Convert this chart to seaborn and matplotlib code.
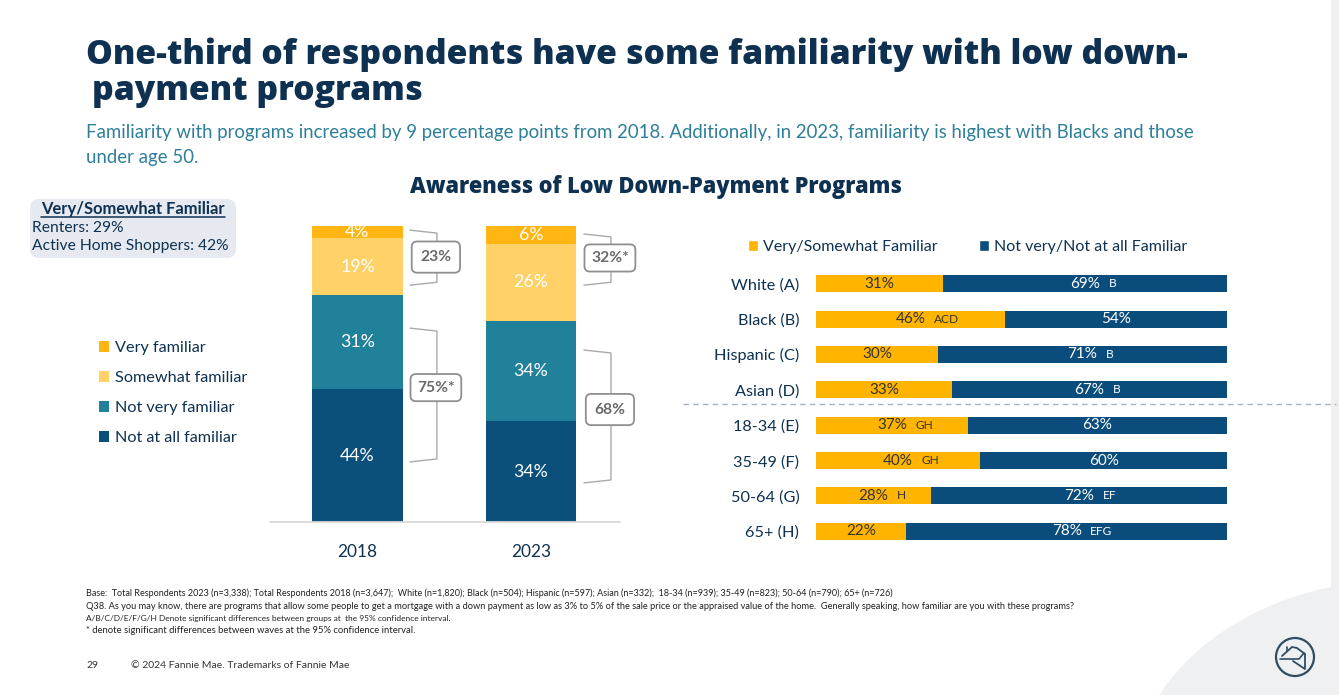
import numpy as np
import matplotlib
matplotlib.use("Agg")
import matplotlib.pyplot as plt
import seaborn as sns
from matplotlib.patches import Patch, FancyBboxPatch, Ellipse, Circle, Rectangle
from matplotlib.lines import Line2D

# ---------------- data ----------------
years = ["2018", "2023"]
very_familiar = [4, 6]
somewhat_familiar = [19, 26]
not_very_familiar = [31, 34]
not_at_all_familiar = [44, 34]
segment_names = ["Very familiar", "Somewhat familiar", "Not very familiar", "Not at all familiar"]
top2_net = ["23%", "32%*"]
bottom2_net = ["75%*", "68%"]

groups = ["White (A)", "Black (B)", "Hispanic (C)", "Asian (D)",
          "18-34 (E)", "35-49 (F)", "50-64 (G)", "65+ (H)"]
familiar = [31, 46, 30, 33, 37, 40, 28, 22]
not_familiar = [69, 54, 71, 67, 63, 60, 72, 78]
familiar_sig = ["", "ACD", "", "", "GH", "GH", "H", ""]
not_familiar_sig = ["B", "", "B", "B", "", "", "EF", "EFG"]
right_legend = ["Very/Somewhat Familiar", "Not very/Not at all Familiar"]

title_lines = ["One-third of respondents have some familiarity with low down-",
               "payment programs"]
subtitle_lines = ["Familiarity with programs increased by 9 percentage points from 2018. "
                  "Additionally, in 2023, familiarity is highest with Blacks and those",
                  "under age 50."]
chart_title = "Awareness of Low Down-Payment Programs"
info_header = "Very/Somewhat Familiar"
info_lines = ["Renters: 29%", "Active Home Shoppers: 42%"]
footer_lines = [
    "Base:  Total Respondents 2023 (n=3,338); Total Respondents 2018 (n=3,647);  White (n=1,820); Black (n=504); "
    "Hispanic (n=597); Asian (n=332);  18-34 (n=939); 35-49 (n=823); 50-64 (n=790); 65+ (n=726)",
    "Q38. As you may know, there are programs that allow some people to get a mortgage with a down payment as low as "
    "3% to 5% of the sale price or the appraised value of the home.  Generally speaking, how familiar are you with these programs?",
    "A/B/C/D/E/F/G/H Denote significant differences between groups at  the 95% confidence interval.",
    "* denote significant differences between waves at the 95% confidence interval.",
]
page_number = "29"
copyright_text = "\u00a9 2024 Fannie Mae. Trademarks of Fannie Mae"

# ---------------- style ----------------
C_VERY = "#FFB612"
C_SOME = "#FFD166"
C_NOTVERY = "#22819A"
C_NOTALL = "#0B4F7B"
C_ORANGE = "#FFB400"
C_BLUE = "#0A4D7C"
NAVY = "#0E3152"
TEAL = "#2E7F9A"
GRAY_TXT = "#6A6A6A"

sns.set_theme(style="white")
plt.rcParams["font.family"] = ["Lato", "DejaVu Sans"]

W, H = 1339, 695
fig = plt.figure(figsize=(W / 100, H / 100), dpi=100)
fig.patch.set_facecolor("white")
renderer = fig.canvas.get_renderer()


def fx(x):
    return x / W


def fy(y):
    return 1 - y / H


def size_for(s, target, **kw):
    t = fig.text(0, 0, s, fontsize=10, **kw)
    w = t.get_window_extent(renderer).width
    t.remove()
    return 10 * target / w


# background helper axes in pixel coordinates
bg = fig.add_axes([0, 0, 1, 1], zorder=-10)
bg.set_xlim(0, W)
bg.set_ylim(H, 0)
bg.axis("off")
bg.add_patch(Ellipse((1400, 790), 540, 420, fc="#eef0f2", ec="none"))
bg.add_patch(Rectangle((1331, 0), 8, H, fc="#eef0f2", ec="none"))

# ---------------- titles ----------------
TFONT = ["Open Sans", "DejaVu Sans"]
TW = "heavy"
ts = size_for(title_lines[0], 1102, fontweight=TW, family=TFONT)
fig.text(fx(86), fy(64), title_lines[0], fontsize=ts, fontweight=TW, family=TFONT,
         color=NAVY, va="baseline", ha="left")
fig.text(fx(92), fy(100), title_lines[1], fontsize=ts, fontweight=TW, family=TFONT,
         color=NAVY, va="baseline", ha="left")

ss = size_for(subtitle_lines[0], 1107)
fig.text(fx(86), fy(138), subtitle_lines[0], fontsize=ss, color=TEAL, va="baseline")
fig.text(fx(86), fy(163), subtitle_lines[1], fontsize=ss, color=TEAL, va="baseline")

cs = size_for(chart_title, 493, fontweight=TW, family=TFONT)
fig.text(fx(410), fy(193), chart_title, fontsize=cs, fontweight=TW, family=TFONT,
         color=NAVY, va="baseline")

# ---------------- info box ----------------
bg.add_patch(FancyBboxPatch((30, 199), 206, 59, boxstyle="round,pad=0,rounding_size=9",
                            fc="#e6eaf0", ec="none"))
hs = size_for(info_header, 184, fontweight="bold")
ht = fig.text(fx(133), fy(214), info_header, fontsize=hs, fontweight="bold", color=NAVY,
              ha="center", va="baseline")
bb = ht.get_window_extent(renderer)
bg.plot([bb.x0, bb.x1], [217, 217], color=NAVY, lw=1.1)
isz = size_for(info_lines[1], 197)
fig.text(fx(32), fy(232), info_lines[0], fontsize=isz, color=NAVY, va="baseline")
fig.text(fx(32), fy(250), info_lines[1], fontsize=isz, color=NAVY, va="baseline")

# ---------------- left stacked bars ----------------
ax1 = fig.add_axes([fx(270), fy(522), 350 / W, 296 / H])
stack = np.array([not_at_all_familiar, not_very_familiar, somewhat_familiar, very_familiar], float)
norm = stack / stack.sum(axis=0) * 100
cum = norm.cumsum(axis=0)
seg_colors = [C_NOTALL, C_NOTVERY, C_SOME, C_VERY]
for i in range(3, -1, -1):
    sns.barplot(x=years, y=cum[i], color=seg_colors[i], width=0.52, saturation=1,
                linewidth=0, ax=ax1)
ax1.set_xlim(-0.504, 1.513)
ax1.set_ylim(0, 100)
lab_size = size_for("44%", 35)
for i in range(4):
    for j in range(2):
        ax1.text(j, cum[i, j] - norm[i, j] / 2, f"{int(stack[i, j])}%", ha="center", va="center",
                 color="white", fontsize=lab_size)
for s in ax1.spines.values():
    s.set_visible(False)
ax1.axhline(0, color="#d9d9d9", lw=1.3, clip_on=False)
ax1.set_yticks([])
ax1.set_xticks([0, 1])
ax1.set_xticklabels(years, fontsize=size_for("2018", 40), color=NAVY)
ax1.tick_params(axis="x", length=0, pad=15.5)
ax1.set_xlabel("")
ax1.set_ylabel("")
ax1.set_facecolor("none")

# brackets + net boxes
bracket_layout = [  # (x_left, x_right, y_top, y_bottom, box_y) for each year: top2 then bottom2
    [(0.303, 0.458, 98.6, 80.0, 89.5), (0.303, 0.458, 65.5, 20.3, 45.4)],
    [(1.305, 1.461, 97.3, 80.0, 89.2), (1.305, 1.461, 58.1, 13.2, 38.0)],
]
box_size = size_for("23%", 31, fontweight="bold")
for j in range(2):
    for k, lbl in enumerate([top2_net[j], bottom2_net[j]]):
        x0, x1, yt, yb, by = bracket_layout[j][k]
        ax1.plot([x0, x1, x1, x0], [yt, yt - 1.0, yb + 1.0, yb], color="#a9a9a9", lw=1.0,
                 clip_on=False, zorder=3)
        pad = 0.55 if len(lbl) == 3 else 0.42
        ax1.text(x1 - 0.006, by, lbl, ha="center", va="center", fontsize=box_size,
                 fontweight="bold", color=GRAY_TXT, zorder=5, clip_on=False,
                 bbox=dict(boxstyle=f"round,pad={pad},rounding_size=0.35", fc="white",
                           ec="#8f8f8f", lw=1.3))

# left legend
leg_size = size_for("Somewhat familiar", 133)
handles = [Patch(facecolor=c, edgecolor="none") for c in [C_VERY, C_SOME, C_NOTVERY, C_NOTALL]]
fig.legend(handles, segment_names, loc="upper left", bbox_to_anchor=(fx(99), fy(341)),
           frameon=False, fontsize=leg_size, handlelength=0.62, handleheight=0.62,
           handletextpad=0.35, labelspacing=0.98, borderpad=0, borderaxespad=0,
           labelcolor=NAVY)

# ---------------- right horizontal bars ----------------
ax2 = fig.add_axes([fx(816), fy(549), 411 / W, 283 / H])
fam = np.array(familiar, float)
nfam = np.array(not_familiar, float)
tot = fam + nfam
fam_n = fam / tot * 100
full = tot / tot * 100
sns.barplot(x=full, y=groups, orient="h", color=C_BLUE, width=0.48, saturation=1,
            linewidth=0, ax=ax2)
sns.barplot(x=fam_n, y=groups, orient="h", color=C_ORANGE, width=0.48, saturation=1,
            linewidth=0, ax=ax2)
ax2.set_xlim(0, 100)
ax2.set_ylim(7.5, -0.5)
for s in ax2.spines.values():
    s.set_visible(False)
ax2.set_xticks([])
ax2.set_xlabel("")
ax2.set_ylabel("")
ax2.set_yticks(range(len(groups)))
ax2.set_yticklabels(groups, fontsize=size_for("Hispanic (C)", 85), color=NAVY)
ax2.tick_params(axis="y", length=0, pad=12)
ax2.set_facecolor("none")

pct_size = size_for("71%", 30)
sig_size = pct_size * 0.78
for i in range(len(groups)):
    cx = fam_n[i] / 2
    ax2.text(cx, i, f"{familiar[i]}%", ha="center", va="center", color="#333333",
             fontsize=pct_size)
    if familiar_sig[i]:
        ax2.annotate(familiar_sig[i], (cx, i), xytext=(17, 0), textcoords="offset points",
                     ha="left", va="center", fontsize=sig_size, color="#333333")
    cx2 = fam_n[i] + (100 - fam_n[i]) / 2
    ax2.text(cx2, i, f"{not_familiar[i]}%", ha="center", va="center", color="white",
             fontsize=pct_size)
    if not_familiar_sig[i]:
        ax2.annotate(not_familiar_sig[i], (cx2, i), xytext=(17, 0), textcoords="offset points",
                     ha="left", va="center", fontsize=sig_size, color="white")

# dashed separator between race and age groups
bg.plot([683, 1336], [404, 404], color="#a6b3c2", lw=1.0, ls=(0, (4, 3)))

# right legend
rl_size = size_for(right_legend[0], 175)
fig.legend([Patch(facecolor=C_ORANGE), Patch(facecolor=C_BLUE)], right_legend, ncol=2,
           loc="upper left", bbox_to_anchor=(fx(748), fy(240)), frameon=False,
           fontsize=rl_size, handlelength=0.62, handleheight=0.62, handletextpad=0.3,
           columnspacing=2.6, borderpad=0, borderaxespad=0, labelcolor=NAVY)

# ---------------- footer ----------------
foot_w = [806, 987, 363, 329]
foot_y = [596, 609, 621, 633]
for s, wdt, y in zip(footer_lines, foot_w, foot_y):
    fig.text(fx(86), fy(y), s, fontsize=size_for(s, wdt), color="#222222", va="baseline")
fs = size_for(copyright_text, 219)
fig.text(fx(86), fy(668), page_number, fontsize=fs, color="#333333", va="baseline")
fig.text(fx(131), fy(668), copyright_text, fontsize=fs, color="#333333", va="baseline")

# logo
lg = fig.add_axes([fx(1274), fy(678), 42 / W, 42 / H])
lg.set_xlim(-1.05, 1.05)
lg.set_ylim(-1.05, 1.05)
lg.axis("off")
lg.add_patch(Circle((0, 0), 0.95, fc="none", ec="#2e4d63", lw=1.6))
lg.plot([-0.65, -0.15, 0.1, 0.5], [0.05, 0.5, 0.45, 0.15], color="#2e4d63", lw=1.3)
lg.plot([-0.4, -0.4], [0.3, 0.48], color="#2e4d63", lw=1.2)
lg.plot([0.5, 0.5, -0.1], [0.15, -0.6, -0.2], color="#2e4d63", lw=1.3)
lg.plot([-0.75, 0.2, 0.45], [-0.1, -0.1, 0.2], color="#2e4d63", lw=1.2)

fig.savefig("out.png", dpi=100, facecolor="white")
